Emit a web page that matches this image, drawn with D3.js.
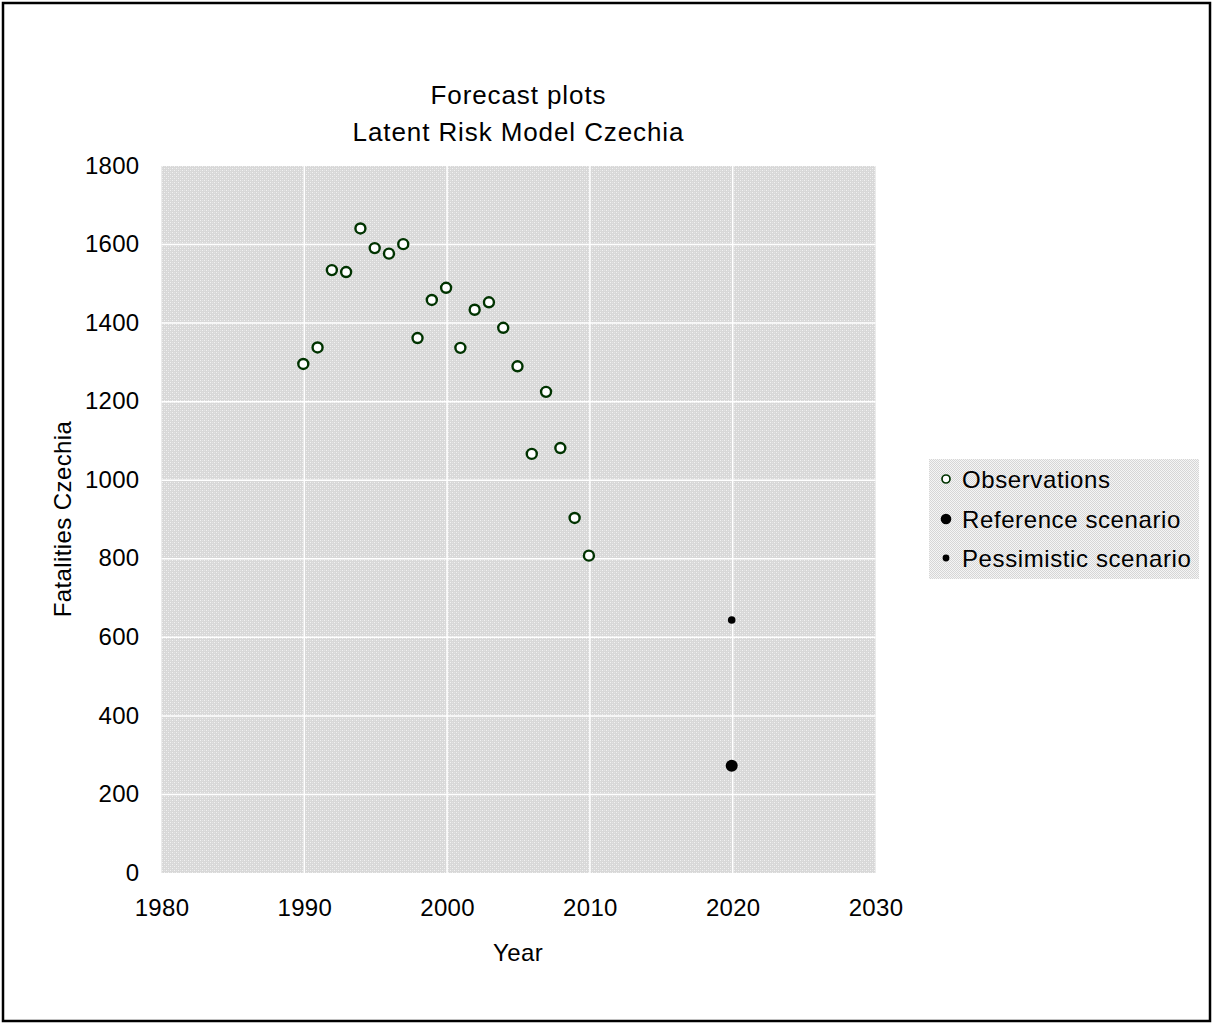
<!DOCTYPE html>
<html>
<head>
<meta charset="utf-8">
<script src="https://cdn.jsdelivr.net/npm/d3@7"></script>
<style>
  body { margin: 0; background: #fff; }
  svg { display: block; font-family: "Liberation Sans", Arial, sans-serif; }
</style>
</head>
<body>
<svg id="chart" width="1213" height="1023"></svg>
<script>
// ---- data ----
const obsYears = [1990,1991,1992,1993,1994,1995,1996,1997,1998,1999,2000,2001,2002,2003,2004,2005,2006,2007,2008,2009,2010];
const obsValues = [1296,1338,1535,1530,1641,1591,1577,1601,1362,1459,1490,1337,1434,1453,1388,1290,1067,1225,1082,904,808];
const refYears = [2020];
const refValues = [273];
const pessYears = [2020];
const pessValues = [644];
const xTicks = [1980,1990,2000,2010,2020,2030];
const yTicks = [0,200,400,600,800,1000,1200,1400,1600,1800];
const titleLines = ["Forecast plots", "Latent Risk Model Czechia"];
const legendLabels = ["Observations", "Reference scenario", "Pessimistic scenario"];

const svg = d3.select("#chart");
const W = 1213, H = 1023;
const plot = {left: 161.5, right: 875.5, top: 166, bottom: 873};

const x = d3.scaleLinear().domain([1980, 2030]).range([plot.left, plot.right]);
const y = d3.scaleLinear().domain([0, 1800]).range([plot.bottom, plot.top]);

// patterns
const defs = svg.append("defs");
const p1 = defs.append("pattern").attr("id", "plotPat").attr("patternUnits", "userSpaceOnUse")
  .attr("width", 4).attr("height", 4);
p1.append("rect").attr("width", 4).attr("height", 4).attr("fill", "#d8d8d8");
p1.append("rect").attr("x", 0).attr("y", 0).attr("width", 1).attr("height", 1).attr("fill", "#f2f2f2");
p1.append("rect").attr("x", 2).attr("y", 2).attr("width", 1).attr("height", 1).attr("fill", "#f2f2f2");
p1.append("rect").attr("x", 2).attr("y", 0).attr("width", 1).attr("height", 1).attr("fill", "#e2e2e2");
p1.append("rect").attr("x", 0).attr("y", 2).attr("width", 1).attr("height", 1).attr("fill", "#e2e2e2");

const p2 = defs.append("pattern").attr("id", "legPat").attr("patternUnits", "userSpaceOnUse")
  .attr("width", 2).attr("height", 2);
p2.append("rect").attr("width", 2).attr("height", 2).attr("fill", "#f5f5f5");
p2.append("rect").attr("x", 0).attr("y", 0).attr("width", 1).attr("height", 1).attr("fill", "#d6d6d6");
p2.append("rect").attr("x", 1).attr("y", 1).attr("width", 1).attr("height", 1).attr("fill", "#d6d6d6");

// outer border
svg.append("rect").attr("x", 3).attr("y", 3).attr("width", W - 6).attr("height", H - 5)
  .attr("fill", "#fff").attr("stroke", "#000").attr("stroke-width", 2.5);

// plot area
svg.append("rect").attr("x", plot.left).attr("y", plot.top)
  .attr("width", plot.right - plot.left).attr("height", plot.bottom - plot.top)
  .attr("fill", "url(#plotPat)");

// gridlines
svg.append("g").selectAll("line").data(xTicks.slice(1, -1)).join("line")
  .attr("x1", d => x(d)).attr("x2", d => x(d))
  .attr("y1", plot.top).attr("y2", plot.bottom)
  .attr("stroke", "#fff").attr("stroke-width", 1.5);
svg.append("g").selectAll("line").data(yTicks.slice(1, -1)).join("line")
  .attr("x1", plot.left).attr("x2", plot.right)
  .attr("y1", d => y(d)).attr("y2", d => y(d))
  .attr("stroke", "#fff").attr("stroke-width", 1.5);

// axes
const yAxis = svg.append("g").attr("transform", `translate(${plot.left},0)`)
  .call(d3.axisLeft(y).tickValues(yTicks).tickSize(0).tickPadding(22).tickFormat(d3.format("d")));
yAxis.select(".domain").remove();
yAxis.selectAll("text").attr("font-size", 24).attr("fill", "#000")
  .attr("font-family", "Liberation Sans, Arial, sans-serif").attr("dy", "0.3em").attr("letter-spacing", 0.3);

const xAxis = svg.append("g").attr("transform", `translate(0,${plot.bottom})`)
  .call(d3.axisBottom(x).tickValues(xTicks).tickSize(0).tickPadding(26).tickFormat(d3.format("d")));
xAxis.select(".domain").remove();
xAxis.selectAll("text").attr("font-size", 24).attr("fill", "#000")
  .attr("font-family", "Liberation Sans, Arial, sans-serif").attr("letter-spacing", 0.3);

// titles
svg.append("g").selectAll("text").data(titleLines).join("text")
  .attr("x", (plot.left + plot.right) / 2).attr("y", (d, i) => 104 + i * 37)
  .attr("text-anchor", "middle").attr("font-size", 26).attr("letter-spacing", 0.9)
  .text(d => d);

svg.append("text").attr("x", 518).attr("y", 961).attr("text-anchor", "middle")
  .attr("font-size", 24).attr("letter-spacing", 0.4).text("Year");

svg.append("text").attr("transform", "translate(71,519) rotate(-90)")
  .attr("text-anchor", "middle").attr("font-size", 24).attr("letter-spacing", 0.4)
  .text("Fatalities Czechia");

// observations
const obs = obsYears.map((d, i) => ({year: d, value: obsValues[i]}));
svg.append("g").selectAll("circle").data(obs).join("circle")
  .attr("cx", d => x(d.year) - 1).attr("cy", d => y(d.value)).attr("r", 5)
  .attr("fill", "#fff").attr("stroke", "#003300").attr("stroke-width", 2.4);

// reference scenario
const ref = refYears.map((d, i) => ({year: d, value: refValues[i]}));
svg.append("g").selectAll("circle").data(ref).join("circle")
  .attr("cx", d => x(d.year) - 1).attr("cy", d => y(d.value)).attr("r", 6)
  .attr("fill", "#000");

// pessimistic scenario
const pess = pessYears.map((d, i) => ({year: d, value: pessValues[i]}));
svg.append("g").selectAll("circle").data(pess).join("circle")
  .attr("cx", d => x(d.year) - 1).attr("cy", d => y(d.value)).attr("r", 3.8)
  .attr("fill", "#000");

// legend
const leg = svg.append("g");
leg.append("rect").attr("x", 929).attr("y", 459).attr("width", 270).attr("height", 120)
  .attr("fill", "url(#legPat)");
const legY = [479, 519, 558];
const legMarks = [
  {r: 4, fill: "#fff", stroke: "#003300", sw: 1.7},
  {r: 5.3, fill: "#000", stroke: "none", sw: 0},
  {r: 3.4, fill: "#000", stroke: "none", sw: 0}
];
leg.selectAll("circle").data(legendLabels).join("circle")
  .attr("cx", 946).attr("cy", (d, i) => legY[i]).attr("r", (d, i) => legMarks[i].r)
  .attr("fill", (d, i) => legMarks[i].fill).attr("stroke", (d, i) => legMarks[i].stroke)
  .attr("stroke-width", (d, i) => legMarks[i].sw);
leg.selectAll("text").data(legendLabels).join("text")
  .attr("x", 962).attr("y", (d, i) => legY[i] + 8.5)
  .attr("font-size", 24).attr("letter-spacing", 0.6).text(d => d);
</script>
</body>
</html>
